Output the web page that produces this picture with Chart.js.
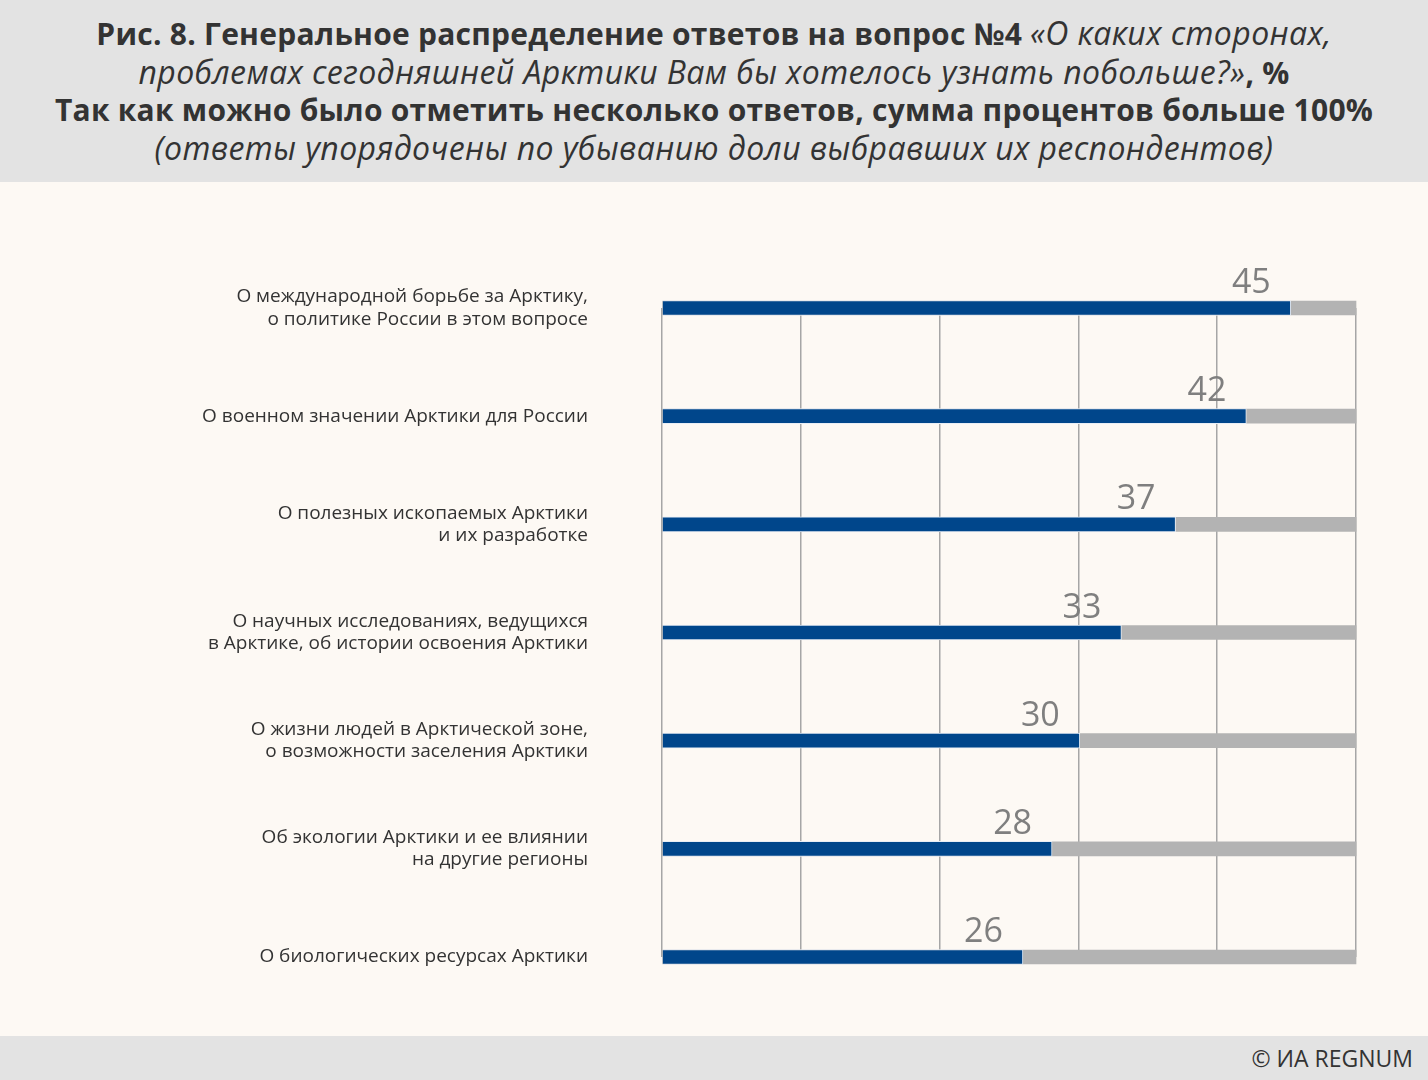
<!DOCTYPE html>
<html lang="ru">
<head>
<meta charset="utf-8">
<script src="https://cdn.jsdelivr.net/npm/chart.js@4"></script>
<style>
    html, body { margin: 0; padding: 0; }
    body {
        width: 1428px; height: 1080px; overflow: hidden;
        background: #fdf9f4;
        font-family: "Open Sans", sans-serif;
        color: #333;
        position: relative;
    }
    #head {
        position: absolute; left: 0; top: 0; width: 1428px; height: 182px;
        background: #e3e3e3;
        text-align: center;
        font-size: 30px; line-height: 37.5px;
        padding-top: 14px; box-sizing: border-box;
        white-space: nowrap;
    }
    #head b { font-weight: 700; letter-spacing: 0.25px; }
    #head i { font-weight: 400; font-size: 32px; letter-spacing: 0.4px; }
    #wrap { position: absolute; left: 0; top: 182px; width: 1428px; height: 854px; }
    #foot {
        position: absolute; left: 0; top: 1036px; width: 1428px; height: 44px;
        background: #e3e3e3;
        font-size: 23px; line-height: 44px;
        text-align: right; box-sizing: border-box; padding-right: 15px;
    }
</style>
</head>
<body>
<div id="head">
    <b>Рис. 8. Генеральное распределение ответов на вопрос №4</b> <i>«О каких сторонах,</i><br>
    <i>проблемах сегодняшней Арктики Вам бы хотелось узнать побольше?»</i><b>, %</b><br>
    <b>Так как можно было отметить несколько ответов, сумма процентов больше 100%</b><br>
    <i>(ответы упорядочены по убыванию доли выбравших их респондентов)</i>
</div>
<div id="wrap"><canvas id="chart" width="1428" height="854"></canvas></div>
<div id="foot">© ИА REGNUM</div>

<script>
// ------------------------------------------------------------
//  Data
// ------------------------------------------------------------
const categories = [
    ["О международной борьбе за Арктику,", "о политике России в этом вопросе"],
    "О военном значении Арктики для России",
    ["О полезных ископаемых Арктики", "и их разработке"],
    ["О научных исследованиях, ведущихся", "в Арктике, об истории освоения Арктики"],
    ["О жизни людей в Арктической зоне,", "о возможности заселения Арктики"],
    ["Об экологии Арктики и ее влиянии", "на другие регионы"],
    "О биологических ресурсах Арктики",
];
const shares = [45.3, 42.1, 37.0, 33.1, 30.1, 28.1, 26.0];
const trackValues = [50, 50, 50, 50, 50, 50, 50];
const xTicks = [0, 10, 20, 30, 40, 50];

const COLORS = {
    bar: "#00468b",
    track: "#b3b3b3",
    grid: "#a6a6a6",
    value: "#7f7f7f",
    label: "#333333",
};

// value labels above bar ends
const valueLabels = {
    id: "valueLabels",
    afterDatasetsDraw(chart) {
        const ctx = chart.ctx;
        const meta = chart.getDatasetMeta(0);
        ctx.save();
        ctx.font = "34px 'Open Sans', sans-serif";
        ctx.fillStyle = COLORS.value;
        ctx.textAlign = "right";
        ctx.textBaseline = "alphabetic";
        meta.data.forEach((bar, i) => {
            ctx.fillText(String(Math.round(shares[i])), bar.x - 20, bar.y - 15);
        });
        ctx.restore();
    },
};

new Chart(document.getElementById("chart"), {
    type: "bar",
    data: {
        labels: categories,
        datasets: [
            {
                data: shares,
                backgroundColor: COLORS.bar,
                borderColor: "#e8eef5",
                borderWidth: 1,
                barThickness: 15,
                grouped: false,
                order: 1,
                clip: false,
            },
            {
                data: trackValues,
                backgroundColor: COLORS.track,
                borderWidth: 0,
                barThickness: 14,
                grouped: false,
                order: 2,
                clip: false,
            },
        ],
    },
    options: {
        indexAxis: "y",
        responsive: false,
        animation: false,
        layout: { padding: { top: 126, bottom: 79, right: 72, left: 0 } },
        plugins: {
            legend: { display: false },
            tooltip: { enabled: false },
        },
        scales: {
            x: {
                min: 0,
                max: 50,
                afterBuildTicks: s => { s.ticks = xTicks.map(v => ({ value: v })); },
                grid: { color: COLORS.grid, lineWidth: 1.5, drawTicks: false },
                border: { display: false },
                ticks: { display: false },
                afterFit: s => {
                    s.height = 0;
                    s.paddingLeft = s.paddingRight = s.paddingTop = s.paddingBottom = 0;
                },
            },
            y: {
                offset: false,
                grid: { display: false },
                border: { display: false },
                ticks: {
                    color: COLORS.label,
                    padding: 66,
                    font: { family: "'Open Sans', sans-serif", size: 19, lineHeight: 1.17 },
                },
                afterFit: s => {
                    s.width = 662;
                    s.paddingLeft = s.paddingRight = s.paddingTop = s.paddingBottom = 0;
                },
            },
        },
    },
    plugins: [valueLabels],
});
</script>
</body>
</html>
